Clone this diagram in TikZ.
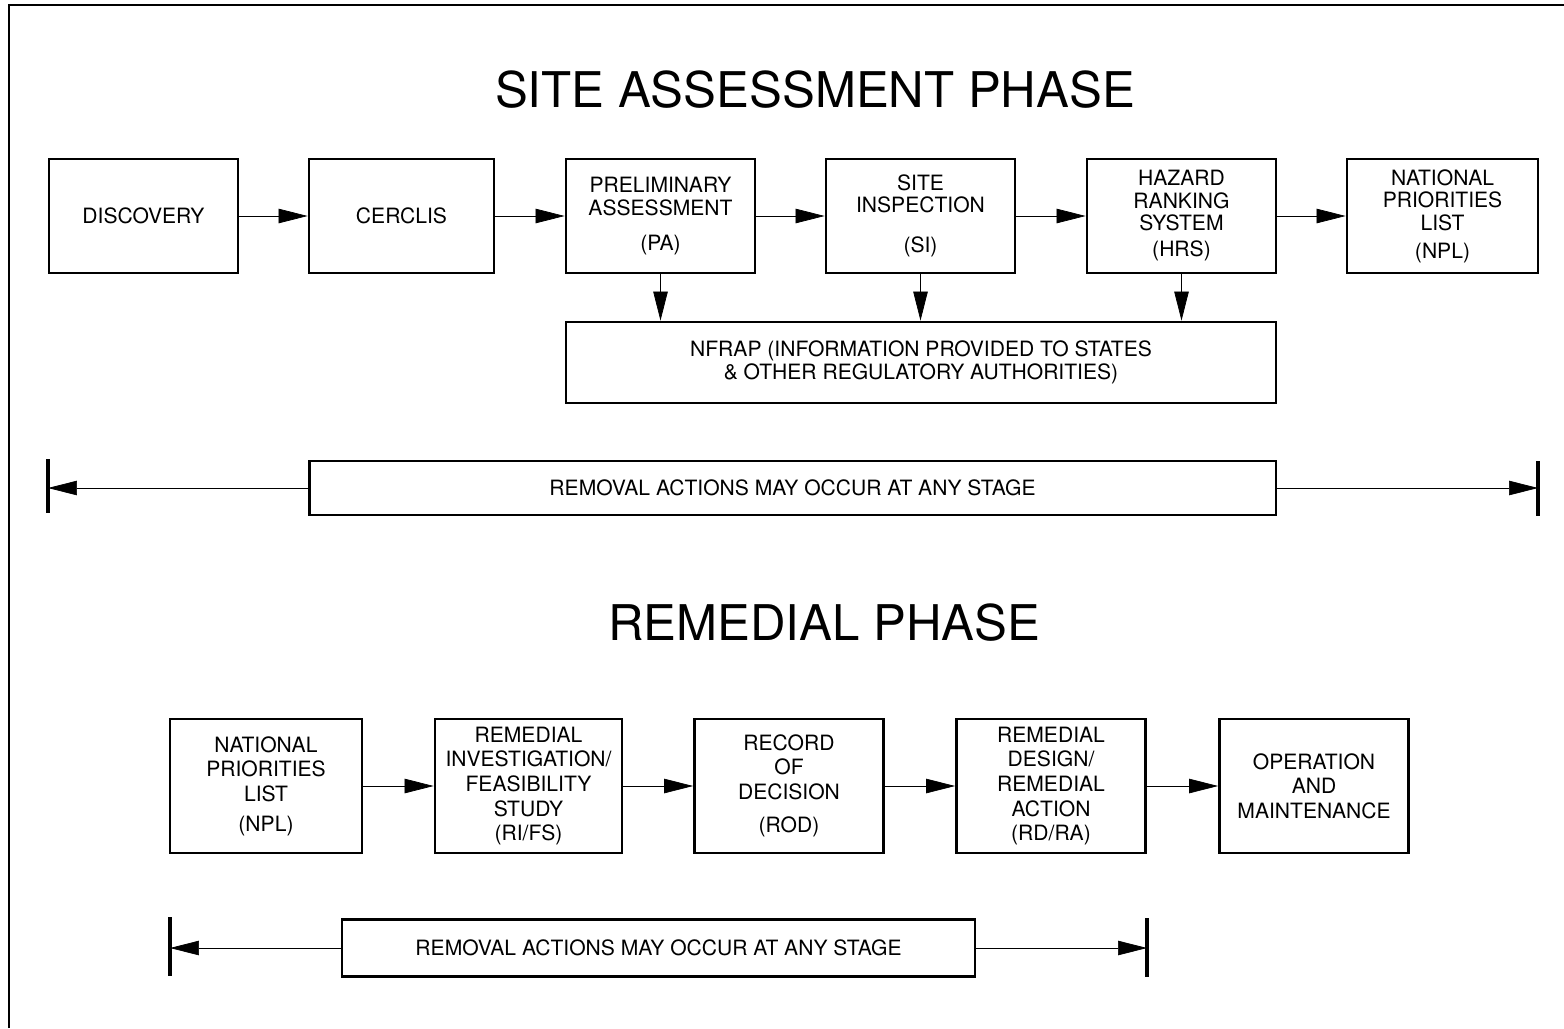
\documentclass[tikz,border=0pt]{standalone}
\usepackage{fontspec}
\setmainfont{TeX Gyre Heros}
\usepackage{tikz}
\usetikzlibrary{arrows.meta,positioning}
\tikzset{
	-{Triangle[length=0.58cm,width=0.29cm]},line width=0.8pt,
	stage/.style ={rectangle, draw, line width=1.6pt, minimum width=3.78cm, minimum height=2.28cm, inner sep=2pt, align=center, font=\fontsize{12}{12.8}\selectfont},
	tall/.style = {stage, minimum height=2.68cm, font=\fontsize{12}{14}\selectfont},
	band/.style = {stage, minimum height=1.1cm},
	phase/.style = {font=\fontsize{28}{30}\selectfont},
	bar/.style = {-, line width=1.8pt}
}

\begin{document}
\begin{tikzpicture}[x=0.02cm,y=-0.02cm]
    \useasboundingbox (0,0) rectangle (1564,1028);
    \draw[-, line width=1pt] (9,1028) -- (9,5) -- (1564,5);

    % site assessment phase
    \node[phase] (sap) at (815,90) {SITE ASSESSMENT PHASE};
    \node[stage] (disc) at (143.5,216) {DISCOVERY};
    \node[stage, minimum width=3.7cm] (cerc) at (401.5,216) {CERCLIS};
    \node[stage] (pa) at (660.5,216) {PRELIMINARY\\ASSESSMENT\\[7pt](PA)};
    \node[stage] (si) at (920.5,216) {SITE\\INSPECTION\\[10pt](SI)};
    \node[stage] (hrs) at (1181.5,216) {HAZARD\\RANKING\\SYSTEM\\[2pt](HRS)};
    \node[stage, minimum width=3.82cm] (npl) at (1442.5,216) {NATIONAL\\PRIORITIES\\LIST\\[3pt](NPL)};
    \node[stage, minimum width=14.2cm, minimum height=1.62cm] (nfrap) at (921,362.5)
        {NFRAP (INFORMATION PROVIDED TO STATES\\\& OTHER REGULATORY AUTHORITIES)};

    \path (disc) edge (cerc);
    \path (cerc) edge (pa);
    \path (pa) edge (si);
    \path (si) edge (hrs);
    \path (hrs) edge (npl);
    \path (pa) edge (pa |- nfrap.north);
    \path (si) edge (si |- nfrap.north);
    \path (hrs) edge (hrs |- nfrap.north);

    \node[band, minimum width=19.34cm, minimum height=1.08cm] (rem1) at (792.5,488) {REMOVAL ACTIONS MAY OCCUR AT ANY STAGE};
    \coordinate (l1) at (48,488);
    \coordinate (r1) at (1538,488);
    \draw[bar] (48,459) -- (48,513);
    \draw[bar] (1538,461) -- (1538,516);
    \path (rem1) edge (l1);
    \path (rem1) edge (r1);

    % remedial phase
    \node[phase] (rp) at (824,623) {REMEDIAL PHASE};
    \node[tall, minimum width=3.84cm] (npl2) at (266,786) {NATIONAL\\PRIORITIES\\LIST\\[3pt](NPL)};
    \node[tall, minimum width=3.74cm] (rifs) at (528.5,786) {REMEDIAL\\INVESTIGATION/\\FEASIBILITY\\STUDY\\(RI/FS)};
    \node[tall] (rod) at (789,786) {RECORD\\OF\\DECISION\\[5pt](ROD)};
    \node[tall] (rdra) at (1051,786) {REMEDIAL\\DESIGN/\\REMEDIAL\\ACTION\\(RD/RA)};
    \node[tall] (om) at (1314,786) {OPERATION\\AND\\MAINTENANCE};

    \path (npl2) edge (rifs);
    \path (rifs) edge (rod);
    \path (rod) edge (rdra);
    \path (rdra) edge (om);

    \node[band, minimum width=12.66cm, minimum height=1.14cm] (rem2) at (658.5,948) {REMOVAL ACTIONS MAY OCCUR AT ANY STAGE};
    \coordinate (l2) at (170,948);
    \coordinate (r2) at (1147,948);
    \draw[bar] (170,917) -- (170,976);
    \draw[bar] (1147,918) -- (1147,977);
    \path (rem2) edge (l2);
    \path (rem2) edge (r2);
\end{tikzpicture}
\end{document}
